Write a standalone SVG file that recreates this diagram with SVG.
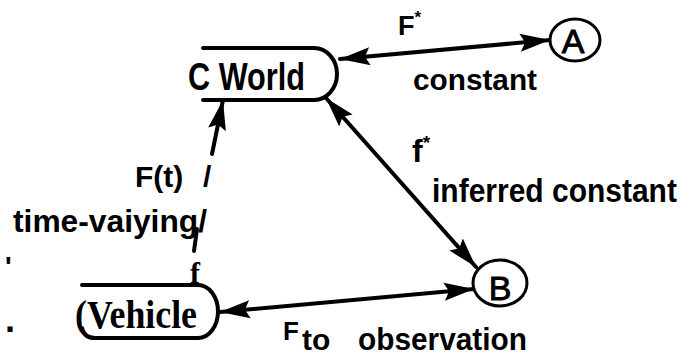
<svg xmlns="http://www.w3.org/2000/svg" width="683" height="363" viewBox="0 0 683 363">
<defs>
<style>
.lbl{font-family:"Liberation Sans",Arial,sans-serif;font-weight:bold;fill:#000}
.ser{font-family:"Liberation Serif","Times New Roman",serif;font-weight:bold;fill:#000}
.circ{font-family:"Liberation Sans",Arial,sans-serif;font-size:34px;fill:#000;stroke:#000;stroke-width:0.9;text-anchor:middle}
.box{fill:none;stroke:#000;stroke-width:4;stroke-linecap:round;stroke-linejoin:round}
.node{fill:#fff;stroke:#000;stroke-width:3}
.conn{fill:none;stroke:#000;stroke-width:4;stroke-linecap:round}
</style>
<marker id="ah" markerUnits="userSpaceOnUse" markerWidth="32" markerHeight="20" refX="30" refY="9" orient="auto-start-reverse" viewBox="0 0 32 18">
<path d="M0,0 L30,9 L0,18 L5,9 Z" fill="#000"/>
</marker>
</defs>
<g id="connectors">
<line class="conn" x1="340" y1="59" x2="550" y2="40" marker-start="url(#ah)" marker-end="url(#ah)"/>
<line class="conn" x1="326" y1="98" x2="476" y2="267" marker-start="url(#ah)" marker-end="url(#ah)"/>
<line class="conn" x1="220" y1="312" x2="474" y2="289" marker-start="url(#ah)" marker-end="url(#ah)"/>
<line class="conn" x1="212" y1="154" x2="223" y2="100" marker-end="url(#ah)"/>
<line class="conn" x1="197" y1="229" x2="194" y2="251"/>
</g>
<g id="cworld">
<path class="box" d="M203,48 H314 A23,26 0 0 1 314,100 H203"/>
<text class="lbl" x="188" y="90" font-size="39" textLength="117" lengthAdjust="spacingAndGlyphs">C World</text>
</g>
<g id="nodeA">
<ellipse class="node" cx="575" cy="40" rx="25" ry="21"/>
<text class="circ" x="573" y="53">A</text>
</g>
<g id="nodeB">
<ellipse class="node" cx="500" cy="283" rx="27" ry="23"/>
<text class="circ" x="500" y="300">B</text>
</g>
<g id="vehicle">
<path class="box" d="M82,285 H198 A20,26.5 0 0 1 198,338 H95 Q84,338 82,328"/>
<text class="ser" x="75" y="328" font-size="40" textLength="122" lengthAdjust="spacingAndGlyphs">(Vehicle</text>
</g>
<g id="labels">
<text class="lbl" x="398" y="35" font-size="27">F<tspan font-size="17" dy="-12">*</tspan></text>
<text class="lbl" x="413" y="90" font-size="30" textLength="124" lengthAdjust="spacingAndGlyphs">constant</text>
<text class="lbl" x="412" y="162" font-size="32">f<tspan font-size="19" dy="-13">*</tspan></text>
<text class="lbl" transform="translate(432,202) scale(1,1.1)" x="0" y="0" font-size="30">inferred constant</text>
<text class="lbl" x="135" y="187" font-size="30">F(t)<tspan x="203">/</tspan></text>
<text class="lbl" x="13" y="232" font-size="32" textLength="194" lengthAdjust="spacingAndGlyphs">time-vaiying/</text>
<text class="ser" x="190" y="283" font-size="30">f</text>
<text class="lbl" x="5" y="276" font-size="28">'</text>
<text class="lbl" x="5" y="332" font-size="36">.</text>
<text class="lbl" x="283" y="340" font-size="26">F</text>
<text class="lbl" x="302" y="350" font-size="30">to</text>
<text class="lbl" x="358" y="350" font-size="31" textLength="169" lengthAdjust="spacingAndGlyphs">observation</text>
</g>
</svg>
